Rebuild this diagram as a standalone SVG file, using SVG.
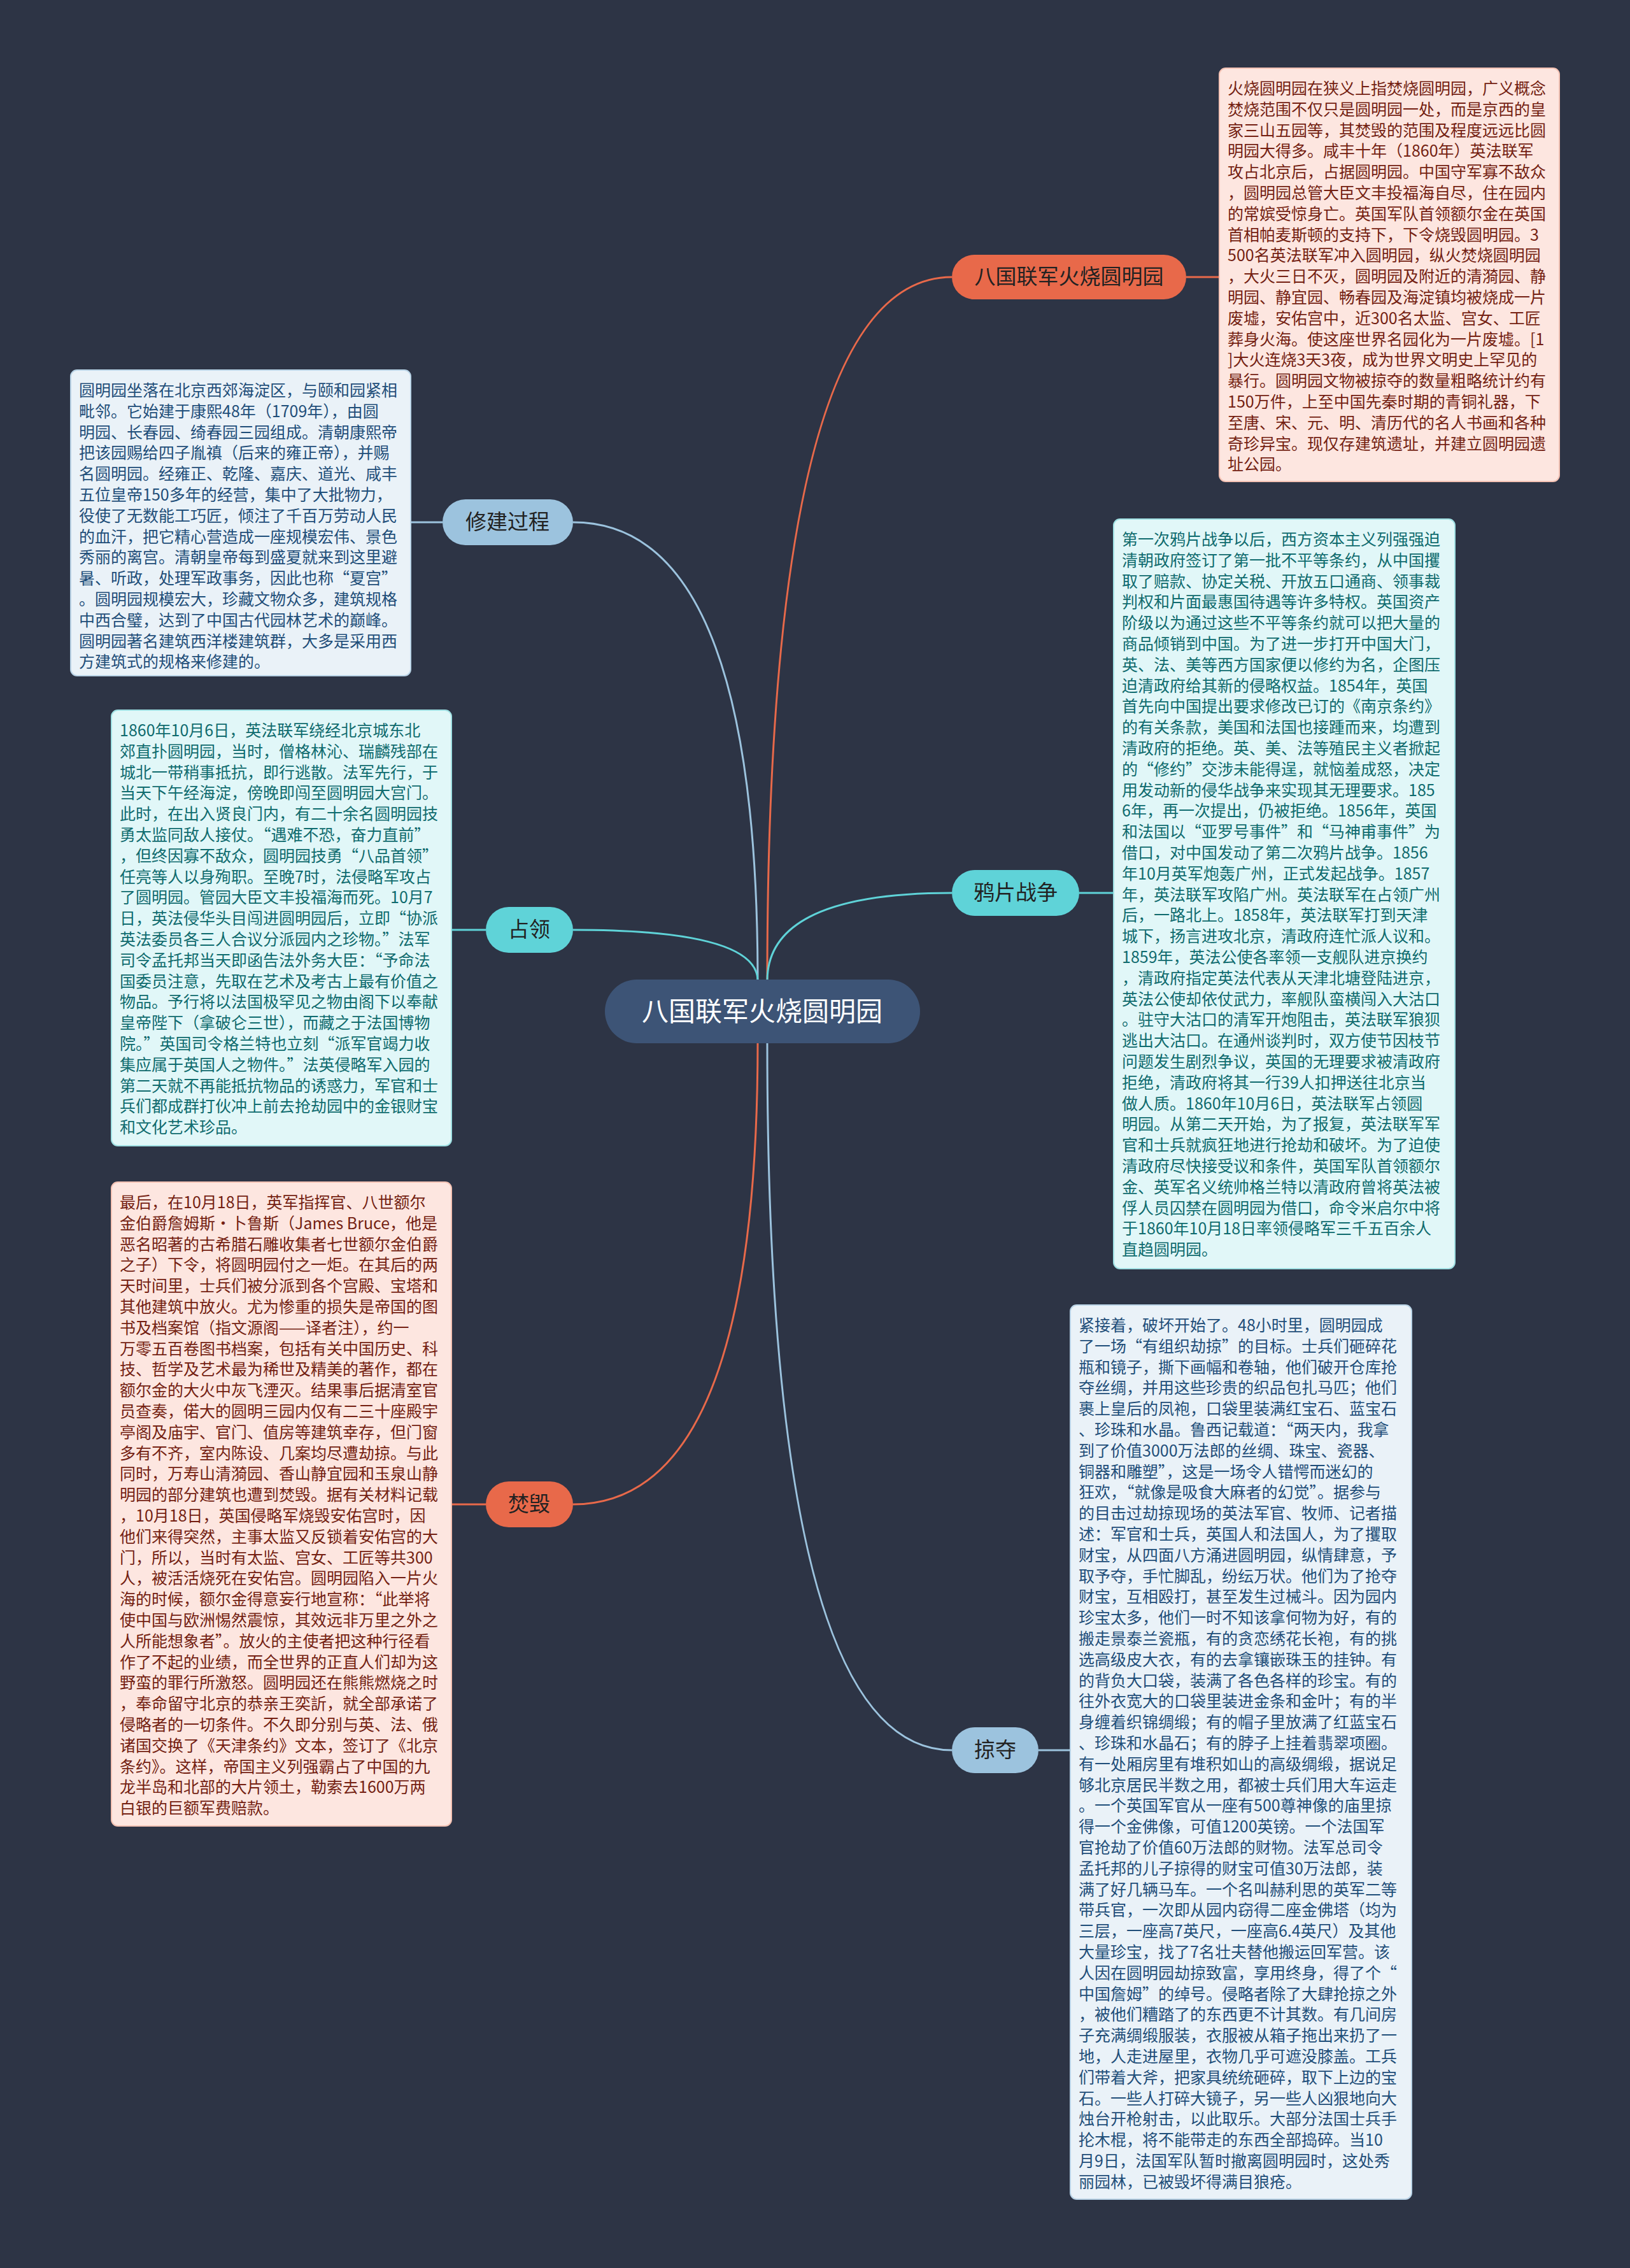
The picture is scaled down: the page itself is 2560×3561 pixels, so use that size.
<svg xmlns="http://www.w3.org/2000/svg" width="2560" height="3561" viewBox="0 0 2560 3561">
<style>
text{font-family:"Noto Sans CJK SC","Noto Sans",sans-serif}
.d{font-size:25px}
.to{fill:#741f12}.tb{fill:#1f4e79}.tc{fill:#0f6b6e}
.bo{fill:#fde6e0;stroke:#f4c2b4;stroke-width:2}
.bb{fill:#eaf2f8;stroke:#b9d3e6;stroke-width:2}
.bc{fill:#e1f7f8;stroke:#9fe0e3;stroke-width:2}
.no{fill:#e8694a}.nb{fill:#9cc3de}.nc{fill:#5fd3d8}
.nt{font-size:33px;fill:#222;text-anchor:middle}
.lo{stroke:#e8694a}.lb{stroke:#9cc3de}.lc{stroke:#5fd3d8}
#links path{fill:none;stroke-width:3}
</style>
<rect width="2560" height="3561" fill="#2d3445"/>
<g id="links">
<path class="lo" d="M1205,1540 Q1205,435 1495,435"/>
<path class="lb" d="M1190,1540 Q1190,820 900,820"/>
<path class="lc" d="M1205,1540 Q1205,1402 1495,1402"/>
<path class="lc" d="M1190,1540 Q1190,1460 900,1460"/>
<path class="lo" d="M1190,1636 Q1190,2362 900,2362"/>
<path class="lb" d="M1205,1636 Q1205,2748 1495,2748"/>
<path class="lo" d="M1863,435 H1915"/>
<path class="lb" d="M695,820 H645"/>
<path class="lc" d="M1695,1402 H1749"/>
<path class="lc" d="M763,1460 H709"/>
<path class="lo" d="M763,2362 H709"/>
<path class="lb" d="M1631,2748 H1681"/>
</g>
<g id="center">
<rect x="950" y="1538" width="495" height="100" rx="50" fill="#3d5476"/>
<text x="1197" y="1603" font-size="42" fill="#ffffff" text-anchor="middle">八国联军火烧圆明园</text>
</g>
<g id="n-fire">
<rect class="no" x="1495" y="400" width="368" height="70" rx="35"/>
<text class="nt" x="1679" y="446">八国联军火烧圆明园</text>
</g>
<g id="n-build">
<rect class="nb" x="695" y="784" width="205" height="72" rx="36"/>
<text class="nt" x="797" y="831">修建过程</text>
</g>
<g id="n-opium">
<rect class="nc" x="1495" y="1366" width="200" height="72" rx="36"/>
<text class="nt" x="1595" y="1413">鸦片战争</text>
</g>
<g id="n-occupy">
<rect class="nc" x="763" y="1424" width="137" height="72" rx="36"/>
<text class="nt" x="831" y="1471">占领</text>
</g>
<g id="n-burn">
<rect class="no" x="763" y="2326" width="137" height="72" rx="36"/>
<text class="nt" x="831" y="2373">焚毁</text>
</g>
<g id="n-loot">
<rect class="nb" x="1495" y="2712" width="136" height="72" rx="36"/>
<text class="nt" x="1563" y="2759">掠夺</text>
</g>
<g id="d-fire">
<rect class="bo" x="1915" y="107" width="534" height="649" rx="10"/>
<text class="d to" x="1928" y="148"><tspan x="1928">火烧圆明园在狭义上指焚烧圆明园，广义概念</tspan><tspan x="1928" dy="32.8">焚烧范围不仅只是圆明园一处，而是京西的皇</tspan><tspan x="1928" dy="32.8">家三山五园等，其焚毁的范围及程度远远比圆</tspan><tspan x="1928" dy="32.8">明园大得多。咸丰十年（1860年）英法联军</tspan><tspan x="1928" dy="32.8">攻占北京后，占据圆明园。中国守军寡不敌众</tspan><tspan x="1928" dy="32.8">，圆明园总管大臣文丰投福海自尽，住在园内</tspan><tspan x="1928" dy="32.8">的常嫔受惊身亡。英国军队首领额尔金在英国</tspan><tspan x="1928" dy="32.8">首相帕麦斯顿的支持下，下令烧毁圆明园。3</tspan><tspan x="1928" dy="32.8">500名英法联军冲入圆明园，纵火焚烧圆明园</tspan><tspan x="1928" dy="32.8">，大火三日不灭，圆明园及附近的清漪园、静</tspan><tspan x="1928" dy="32.8">明园、静宜园、畅春园及海淀镇均被烧成一片</tspan><tspan x="1928" dy="32.8">废墟，安佑宫中，近300名太监、宫女、工匠</tspan><tspan x="1928" dy="32.8">葬身火海。使这座世界名园化为一片废墟。[1</tspan><tspan x="1928" dy="32.8">]大火连烧3天3夜，成为世界文明史上罕见的</tspan><tspan x="1928" dy="32.8">暴行。圆明园文物被掠夺的数量粗略统计约有</tspan><tspan x="1928" dy="32.8">150万件，上至中国先秦时期的青铜礼器，下</tspan><tspan x="1928" dy="32.8">至唐、宋、元、明、清历代的名人书画和各种</tspan><tspan x="1928" dy="32.8">奇珍异宝。现仅存建筑遗址，并建立圆明园遗</tspan><tspan x="1928" dy="32.8">址公园。</tspan></text>
</g>
<g id="d-build">
<rect class="bb" x="111" y="581" width="534" height="480" rx="10"/>
<text class="d tb" x="124" y="622"><tspan x="124">圆明园坐落在北京西郊海淀区，与颐和园紧相</tspan><tspan x="124" dy="32.8">毗邻。它始建于康熙48年（1709年），由圆</tspan><tspan x="124" dy="32.8">明园、长春园、绮春园三园组成。清朝康熙帝</tspan><tspan x="124" dy="32.8">把该园赐给四子胤禛（后来的雍正帝），并赐</tspan><tspan x="124" dy="32.8">名圆明园。经雍正、乾隆、嘉庆、道光、咸丰</tspan><tspan x="124" dy="32.8">五位皇帝150多年的经营，集中了大批物力，</tspan><tspan x="124" dy="32.8">役使了无数能工巧匠，倾注了千百万劳动人民</tspan><tspan x="124" dy="32.8">的血汗，把它精心营造成一座规模宏伟、景色</tspan><tspan x="124" dy="32.8">秀丽的离宫。清朝皇帝每到盛夏就来到这里避</tspan><tspan x="124" dy="32.8">暑、听政，处理军政事务，因此也称“夏宫”</tspan><tspan x="124" dy="32.8">。圆明园规模宏大，珍藏文物众多，建筑规格</tspan><tspan x="124" dy="32.8">中西合璧，达到了中国古代园林艺术的巅峰。</tspan><tspan x="124" dy="32.8">圆明园著名建筑西洋楼建筑群，大多是采用西</tspan><tspan x="124" dy="32.8">方建筑式的规格来修建的。</tspan></text>
</g>
<g id="d-opium">
<rect class="bc" x="1749" y="815" width="536" height="1177" rx="10"/>
<text class="d tc" x="1762" y="856"><tspan x="1762">第一次鸦片战争以后，西方资本主义列强强迫</tspan><tspan x="1762" dy="32.8">清朝政府签订了第一批不平等条约，从中国攫</tspan><tspan x="1762" dy="32.8">取了赔款、协定关税、开放五口通商、领事裁</tspan><tspan x="1762" dy="32.8">判权和片面最惠国待遇等许多特权。英国资产</tspan><tspan x="1762" dy="32.8">阶级以为通过这些不平等条约就可以把大量的</tspan><tspan x="1762" dy="32.8">商品倾销到中国。为了进一步打开中国大门，</tspan><tspan x="1762" dy="32.8">英、法、美等西方国家便以修约为名，企图压</tspan><tspan x="1762" dy="32.8">迫清政府给其新的侵略权益。1854年，英国</tspan><tspan x="1762" dy="32.8">首先向中国提出要求修改已订的《南京条约》</tspan><tspan x="1762" dy="32.8">的有关条款，美国和法国也接踵而来，均遭到</tspan><tspan x="1762" dy="32.8">清政府的拒绝。英、美、法等殖民主义者掀起</tspan><tspan x="1762" dy="32.8">的“修约”交涉未能得逞，就恼羞成怒，决定</tspan><tspan x="1762" dy="32.8">用发动新的侵华战争来实现其无理要求。185</tspan><tspan x="1762" dy="32.8">6年，再一次提出，仍被拒绝。1856年，英国</tspan><tspan x="1762" dy="32.8">和法国以“亚罗号事件”和“马神甫事件”为</tspan><tspan x="1762" dy="32.8">借口，对中国发动了第二次鸦片战争。1856</tspan><tspan x="1762" dy="32.8">年10月英军炮轰广州，正式发起战争。1857</tspan><tspan x="1762" dy="32.8">年，英法联军攻陷广州。英法联军在占领广州</tspan><tspan x="1762" dy="32.8">后，一路北上。1858年，英法联军打到天津</tspan><tspan x="1762" dy="32.8">城下，扬言进攻北京，清政府连忙派人议和。</tspan><tspan x="1762" dy="32.8">1859年，英法公使各率领一支舰队进京换约</tspan><tspan x="1762" dy="32.8">，清政府指定英法代表从天津北塘登陆进京，</tspan><tspan x="1762" dy="32.8">英法公使却依仗武力，率舰队蛮横闯入大沽口</tspan><tspan x="1762" dy="32.8">。驻守大沽口的清军开炮阻击，英法联军狼狈</tspan><tspan x="1762" dy="32.8">逃出大沽口。在通州谈判时，双方使节因枝节</tspan><tspan x="1762" dy="32.8">问题发生剧烈争议，英国的无理要求被清政府</tspan><tspan x="1762" dy="32.8">拒绝，清政府将其一行39人扣押送往北京当</tspan><tspan x="1762" dy="32.8">做人质。1860年10月6日，英法联军占领圆</tspan><tspan x="1762" dy="32.8">明园。从第二天开始，为了报复，英法联军军</tspan><tspan x="1762" dy="32.8">官和士兵就疯狂地进行抢劫和破坏。为了迫使</tspan><tspan x="1762" dy="32.8">清政府尽快接受议和条件，英国军队首领额尔</tspan><tspan x="1762" dy="32.8">金、英军名义统帅格兰特以清政府曾将英法被</tspan><tspan x="1762" dy="32.8">俘人员囚禁在圆明园为借口，命令米启尔中将</tspan><tspan x="1762" dy="32.8">于1860年10月18日率领侵略军三千五百余人</tspan><tspan x="1762" dy="32.8">直趋圆明园。</tspan></text>
</g>
<g id="d-occupy">
<rect class="bc" x="175" y="1115" width="534" height="684" rx="10"/>
<text class="d tc" x="188" y="1156"><tspan x="188">1860年10月6日，英法联军绕经北京城东北</tspan><tspan x="188" dy="32.8">郊直扑圆明园，当时，僧格林沁、瑞麟残部在</tspan><tspan x="188" dy="32.8">城北一带稍事抵抗，即行逃散。法军先行，于</tspan><tspan x="188" dy="32.8">当天下午经海淀，傍晚即闯至圆明园大宫门。</tspan><tspan x="188" dy="32.8">此时，在出入贤良门内，有二十余名圆明园技</tspan><tspan x="188" dy="32.8">勇太监同敌人接仗。“遇难不恐，奋力直前”</tspan><tspan x="188" dy="32.8">，但终因寡不敌众，圆明园技勇“八品首领”</tspan><tspan x="188" dy="32.8">任亮等人以身殉职。至晚7时，法侵略军攻占</tspan><tspan x="188" dy="32.8">了圆明园。管园大臣文丰投福海而死。10月7</tspan><tspan x="188" dy="32.8">日，英法侵华头目闯进圆明园后，立即“协派</tspan><tspan x="188" dy="32.8">英法委员各三人合议分派园内之珍物。”法军</tspan><tspan x="188" dy="32.8">司令孟托邦当天即函告法外务大臣：“予命法</tspan><tspan x="188" dy="32.8">国委员注意，先取在艺术及考古上最有价值之</tspan><tspan x="188" dy="32.8">物品。予行将以法国极罕见之物由阁下以奉献</tspan><tspan x="188" dy="32.8">皇帝陛下（拿破仑三世），而藏之于法国博物</tspan><tspan x="188" dy="32.8">院。”英国司令格兰特也立刻“派军官竭力收</tspan><tspan x="188" dy="32.8">集应属于英国人之物件。”法英侵略军入园的</tspan><tspan x="188" dy="32.8">第二天就不再能抵抗物品的诱惑力，军官和士</tspan><tspan x="188" dy="32.8">兵们都成群打伙冲上前去抢劫园中的金银财宝</tspan><tspan x="188" dy="32.8">和文化艺术珍品。</tspan></text>
</g>
<g id="d-burn">
<rect class="bo" x="175" y="1856" width="534" height="1011" rx="10"/>
<text class="d to" x="188" y="1897"><tspan x="188">最后，在10月18日，英军指挥官、八世额尔</tspan><tspan x="188" dy="32.8">金伯爵詹姆斯·卜鲁斯（James Bruce，他是</tspan><tspan x="188" dy="32.8">恶名昭著的古希腊石雕收集者七世额尔金伯爵</tspan><tspan x="188" dy="32.8">之子）下令，将圆明园付之一炬。在其后的两</tspan><tspan x="188" dy="32.8">天时间里，士兵们被分派到各个宫殿、宝塔和</tspan><tspan x="188" dy="32.8">其他建筑中放火。尤为惨重的损失是帝国的图</tspan><tspan x="188" dy="32.8">书及档案馆（指文源阁——译者注），约一</tspan><tspan x="188" dy="32.8">万零五百卷图书档案，包括有关中国历史、科</tspan><tspan x="188" dy="32.8">技、哲学及艺术最为稀世及精美的著作，都在</tspan><tspan x="188" dy="32.8">额尔金的大火中灰飞湮灭。结果事后据清室官</tspan><tspan x="188" dy="32.8">员查奏，偌大的圆明三园内仅有二三十座殿宇</tspan><tspan x="188" dy="32.8">亭阁及庙宇、官门、值房等建筑幸存，但门窗</tspan><tspan x="188" dy="32.8">多有不齐，室内陈设、几案均尽遭劫掠。与此</tspan><tspan x="188" dy="32.8">同时，万寿山清漪园、香山静宜园和玉泉山静</tspan><tspan x="188" dy="32.8">明园的部分建筑也遭到焚毁。据有关材料记载</tspan><tspan x="188" dy="32.8">，10月18日，英国侵略军烧毁安佑宫时，因</tspan><tspan x="188" dy="32.8">他们来得突然，主事太监又反锁着安佑宫的大</tspan><tspan x="188" dy="32.8">门，所以，当时有太监、宫女、工匠等共300</tspan><tspan x="188" dy="32.8">人，被活活烧死在安佑宫。圆明园陷入一片火</tspan><tspan x="188" dy="32.8">海的时候，额尔金得意妄行地宣称：“此举将</tspan><tspan x="188" dy="32.8">使中国与欧洲惕然震惊，其效远非万里之外之</tspan><tspan x="188" dy="32.8">人所能想象者”。放火的主使者把这种行径看</tspan><tspan x="188" dy="32.8">作了不起的业绩，而全世界的正直人们却为这</tspan><tspan x="188" dy="32.8">野蛮的罪行所激怒。圆明园还在熊熊燃烧之时</tspan><tspan x="188" dy="32.8">，奉命留守北京的恭亲王奕訢，就全部承诺了</tspan><tspan x="188" dy="32.8">侵略者的一切条件。不久即分别与英、法、俄</tspan><tspan x="188" dy="32.8">诸国交换了《天津条约》文本，签订了《北京</tspan><tspan x="188" dy="32.8">条约》。这样，帝国主义列强霸占了中国的九</tspan><tspan x="188" dy="32.8">龙半岛和北部的大片领土，勒索去1600万两</tspan><tspan x="188" dy="32.8">白银的巨额军费赔款。</tspan></text>
</g>
<g id="d-loot">
<rect class="bb" x="1681" y="2049" width="536" height="1404" rx="10"/>
<text class="d tb" x="1694" y="2090"><tspan x="1694">紧接着，破坏开始了。48小时里，圆明园成</tspan><tspan x="1694" dy="32.8">了一场“有组织劫掠”的目标。士兵们砸碎花</tspan><tspan x="1694" dy="32.8">瓶和镜子，撕下画幅和卷轴，他们破开仓库抢</tspan><tspan x="1694" dy="32.8">夺丝绸，并用这些珍贵的织品包扎马匹；他们</tspan><tspan x="1694" dy="32.8">裹上皇后的凤袍，口袋里装满红宝石、蓝宝石</tspan><tspan x="1694" dy="32.8">、珍珠和水晶。鲁西记载道：“两天内，我拿</tspan><tspan x="1694" dy="32.8">到了价值3000万法郎的丝绸、珠宝、瓷器、</tspan><tspan x="1694" dy="32.8">铜器和雕塑”，这是一场令人错愕而迷幻的</tspan><tspan x="1694" dy="32.8">狂欢，“就像是吸食大麻者的幻觉”。据参与</tspan><tspan x="1694" dy="32.8">的目击过劫掠现场的英法军官、牧师、记者描</tspan><tspan x="1694" dy="32.8">述：军官和士兵，英国人和法国人，为了攫取</tspan><tspan x="1694" dy="32.8">财宝，从四面八方涌进圆明园，纵情肆意，予</tspan><tspan x="1694" dy="32.8">取予夺，手忙脚乱，纷纭万状。他们为了抢夺</tspan><tspan x="1694" dy="32.8">财宝，互相殴打，甚至发生过械斗。因为园内</tspan><tspan x="1694" dy="32.8">珍宝太多，他们一时不知该拿何物为好，有的</tspan><tspan x="1694" dy="32.8">搬走景泰兰瓷瓶，有的贪恋绣花长袍，有的挑</tspan><tspan x="1694" dy="32.8">选高级皮大衣，有的去拿镶嵌珠玉的挂钟。有</tspan><tspan x="1694" dy="32.8">的背负大口袋，装满了各色各样的珍宝。有的</tspan><tspan x="1694" dy="32.8">往外衣宽大的口袋里装进金条和金叶；有的半</tspan><tspan x="1694" dy="32.8">身缠着织锦绸缎；有的帽子里放满了红蓝宝石</tspan><tspan x="1694" dy="32.8">、珍珠和水晶石；有的脖子上挂着翡翠项圈。</tspan><tspan x="1694" dy="32.8">有一处厢房里有堆积如山的高级绸缎，据说足</tspan><tspan x="1694" dy="32.8">够北京居民半数之用，都被士兵们用大车运走</tspan><tspan x="1694" dy="32.8">。一个英国军官从一座有500尊神像的庙里掠</tspan><tspan x="1694" dy="32.8">得一个金佛像，可值1200英镑。一个法国军</tspan><tspan x="1694" dy="32.8">官抢劫了价值60万法郎的财物。法军总司令</tspan><tspan x="1694" dy="32.8">孟托邦的儿子掠得的财宝可值30万法郎，装</tspan><tspan x="1694" dy="32.8">满了好几辆马车。一个名叫赫利思的英军二等</tspan><tspan x="1694" dy="32.8">带兵官，一次即从园内窃得二座金佛塔（均为</tspan><tspan x="1694" dy="32.8">三层，一座高7英尺，一座高6.4英尺）及其他</tspan><tspan x="1694" dy="32.8">大量珍宝，找了7名壮夫替他搬运回军营。该</tspan><tspan x="1694" dy="32.8">人因在圆明园劫掠致富，享用终身，得了个“</tspan><tspan x="1694" dy="32.8">中国詹姆”的绰号。侵略者除了大肆抢掠之外</tspan><tspan x="1694" dy="32.8">，被他们糟踏了的东西更不计其数。有几间房</tspan><tspan x="1694" dy="32.8">子充满绸缎服装，衣服被从箱子拖出来扔了一</tspan><tspan x="1694" dy="32.8">地，人走进屋里，衣物几乎可遮没膝盖。工兵</tspan><tspan x="1694" dy="32.8">们带着大斧，把家具统统砸碎，取下上边的宝</tspan><tspan x="1694" dy="32.8">石。一些人打碎大镜子，另一些人凶狠地向大</tspan><tspan x="1694" dy="32.8">烛台开枪射击，以此取乐。大部分法国士兵手</tspan><tspan x="1694" dy="32.8">抡木棍，将不能带走的东西全部捣碎。当10</tspan><tspan x="1694" dy="32.8">月9日，法国军队暂时撤离圆明园时，这处秀</tspan><tspan x="1694" dy="32.8">丽园林，已被毁坏得满目狼疮。</tspan></text>
</g>
</svg>
